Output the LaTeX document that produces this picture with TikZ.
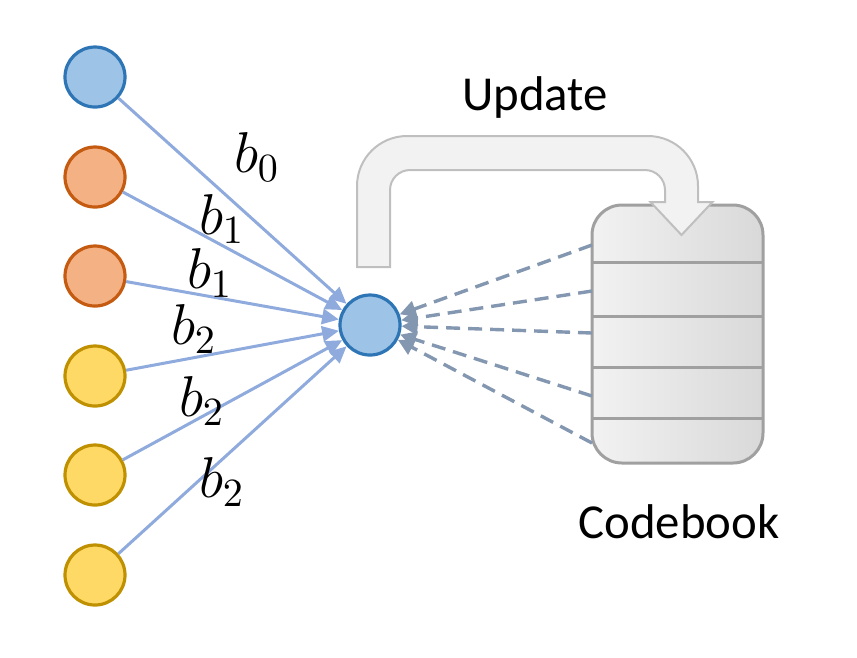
\documentclass[tikz,border=0pt]{standalone}
\usepackage{fontspec}
\newfontfamily\carlito{Carlito}
\usetikzlibrary{arrows.meta}
\definecolor{bfill}{HTML}{9DC3E6}
\definecolor{bline}{HTML}{2E75B6}
\definecolor{ofill}{HTML}{F4B183}
\definecolor{oline}{HTML}{C55A11}
\definecolor{yfill}{HTML}{FFD966}
\definecolor{yline}{HTML}{BF9000}
\definecolor{arrblue}{HTML}{8FAADC}
\definecolor{dashcol}{HTML}{8497B0}
\definecolor{cbline}{HTML}{A0A0A0}
\definecolor{upfill}{HTML}{F2F2F2}
\definecolor{upline}{HTML}{BFBFBF}
\tikzset{
  neuron/.style={circle, minimum size=15pt, inner sep=0pt, line width=0.8pt},
  bluen/.style={neuron, fill=bfill, draw=bline},
  orangen/.style={neuron, fill=ofill, draw=oline},
  yellown/.style={neuron, fill=yfill, draw=yline},
  inarrow/.style={draw=arrblue, line width=0.75pt, -{Triangle[length=4.2pt,width=3.8pt]}},
  dasharrow/.style={draw=dashcol, line width=0.85pt, dash pattern=on 3.5pt off 2pt, -{Triangle[length=4pt,width=4pt]}},
  blabel/.style={font=\fontsize{14}{16}\selectfont, inner sep=0pt},
  bigtext/.style={font=\carlito\fontsize{12.2}{14}\selectfont, inner sep=0pt}
}
\begin{document}
\begin{tikzpicture}[x=0.25pt,y=-0.25pt]
\useasboundingbox (0,0) rectangle (857,657);
% left neurons
\node[bluen] (a1) at (95,77) {};
\node[orangen] (a2) at (95,177) {};
\node[orangen] (a3) at (95,276) {};
\node[yellown] (a4) at (95,376) {};
\node[yellown] (a5) at (95,475) {};
\node[yellown] (a6) at (95,575) {};
% center neuron
\node[bluen] (c) at (370,325) {};
% connections
\foreach \i in {1,...,6} { \draw[inarrow] (a\i) -- (c); }
% labels
\node[blabel] (l1) at (257,157) {$b_0$};
\node[blabel] (l2) at (222,219) {$b_1$};
\node[blabel] (l3) at (210,273) {$b_1$};
\node[blabel] (l4) at (194,329) {$b_2$};
\node[blabel] (l5) at (202,401) {$b_2$};
\node[blabel] (l6) at (222,482) {$b_2$};
% codebook
\node[draw=cbline, line width=0.75pt, rounded corners=7.5pt, minimum width=42.75pt, minimum height=64.5pt, inner sep=0pt, left color=upfill, right color=black!15] (cb) at (677.5,334) {};
\foreach \y in {262,316,367,418} { \draw[cbline, line width=0.75pt] (592,\y) -- (763,\y); }
% dashed connectors
\coordinate (d1) at (592,245);
\coordinate (d2) at (592,291);
\coordinate (d3) at (592,333);
\coordinate (d4) at (592,396);
\coordinate (d5) at (592,443);
\foreach \i in {1,...,5} { \draw[dasharrow] (d\i) -- (c); }
% update U-turn arrow
\draw[fill=upfill, draw=upline, line width=0.5pt]
  (357,267) -- (357,186) .. controls (357,158.4) and (379.4,136) .. (407,136)
  -- (648,136) .. controls (675.6,136) and (698,158.4) .. (698,186)
  -- (698,202) -- (712.5,202) -- (681.5,235) -- (650.5,202) -- (665,202)
  -- (665,190) .. controls (665,179) and (656,170) .. (645,170)
  -- (410,170) .. controls (399,170) and (390,179) .. (390,190)
  -- (390,267) -- cycle;
% texts
\node[bigtext] (upd) at (535,97) {Update};
\node[bigtext] (cbt) at (679,522) {Codebook};
\end{tikzpicture}
\end{document}
